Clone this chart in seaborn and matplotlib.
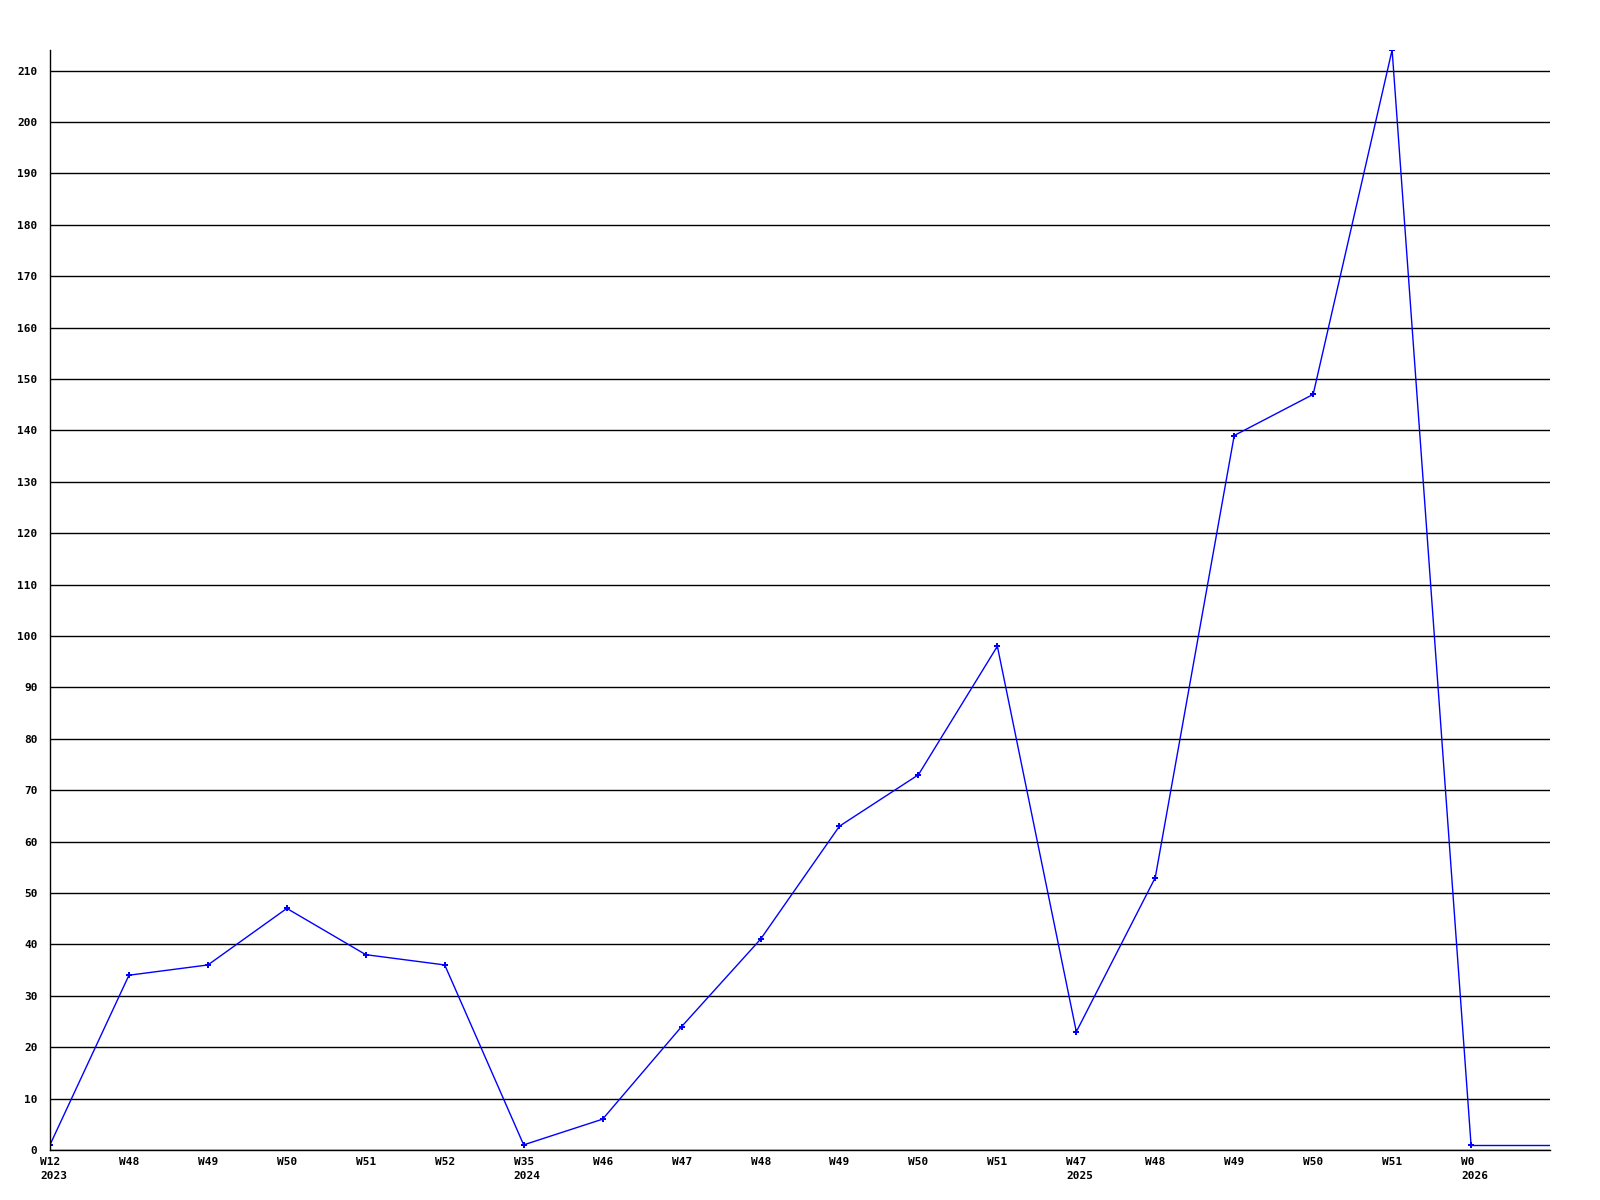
import matplotlib
matplotlib.use("Agg")
import matplotlib.pyplot as plt
import matplotlib.transforms as mtrans
import seaborn as sns
import pandas as pd

weeks = ["W12", "W48", "W49", "W50", "W51", "W52", "W35", "W46", "W47", "W48",
         "W49", "W50", "W51", "W47", "W48", "W49", "W50", "W51", "W0"]
years = ["2023", "", "", "", "", "", "2024", "", "", "",
         "", "", "", "2025", "", "", "", "", "2026"]
values = [1, 34, 36, 47, 38, 36, 1, 6, 24, 41, 63, 73, 98, 23, 53, 139, 147, 214, 1]

sns.set_theme(style="white")
plt.rcParams['font.family'] = ['DejaVu Sans Mono']

n = len(values)
df = pd.DataFrame({"pos": list(range(n)), "value": values})
# extension of last value to the right edge
ext = pd.DataFrame({"pos": [n - 1, n], "value": [values[-1], values[-1]]})

fig = plt.figure(figsize=(16, 12), dpi=100)
ax = fig.add_axes([0.03125, 0.04167, 0.9375, 0.91667])

ax.set_xlim(0, n)
ax.set_ylim(0, 214)
ax.set_yticks(range(0, 211, 10))
ax.grid(axis="y", color="black", linewidth=1)
ax.set_axisbelow(True)

sns.lineplot(data=ext, x="pos", y="value", ax=ax, color="#0000ff", linewidth=1)
sns.lineplot(data=df, x="pos", y="value", ax=ax, color="#0000ff", linewidth=1,
             marker="P", markersize=5, markeredgewidth=0)

ax.set_xlabel("")
ax.set_ylabel("")
for s in ["top", "right"]:
    ax.spines[s].set_visible(False)
for s in ["left", "bottom"]:
    ax.spines[s].set_color("black")
    ax.spines[s].set_linewidth(1)

ax.tick_params(axis="both", length=0, pad=5, labelcolor="black")
ax.tick_params(axis="y", pad=9)
ax.set_xticks(range(n))
labels = [w + ("\n" + y if y else "") for w, y in zip(weeks, years)]
ax.set_xticklabels(labels, fontsize=8, fontweight="bold", ha="left", va="top",
                   linespacing=1.45, color="black")
ax.set_yticklabels([str(v) for v in range(0, 211, 10)], fontsize=8,
                   fontweight="bold", color="black")

offset = mtrans.ScaledTranslation(-10 / 100, 0, fig.dpi_scale_trans)
for lbl in ax.xaxis.get_majorticklabels():
    lbl.set_transform(lbl.get_transform() + offset)

fig.savefig("out.png", dpi=100, facecolor="white")
